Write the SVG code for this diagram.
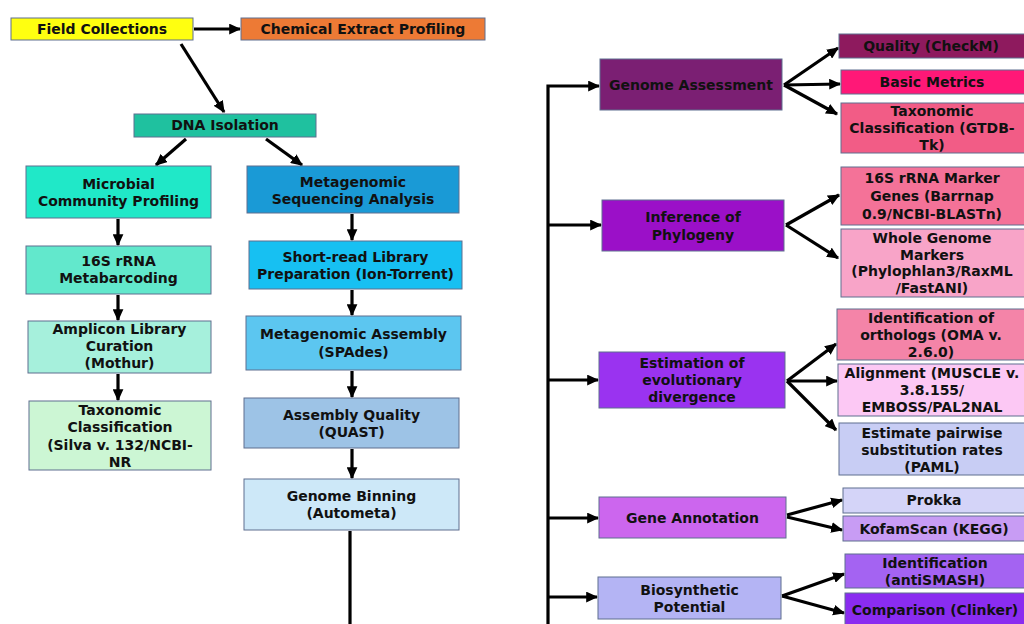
<svg xmlns="http://www.w3.org/2000/svg" width="1024" height="624" viewBox="0 0 1024 624">
<defs>
<marker id="ah" viewBox="0 0 10 9" refX="9" refY="4.5" markerWidth="12" markerHeight="11" markerUnits="userSpaceOnUse" orient="auto">
<path d="M0,0 L10,4.5 L0,9 z" fill="#000"/>
</marker>
<style>
.n rect{stroke:#5f6f8f;stroke-width:1}
.n text{font-family:"DejaVu Sans","Liberation Sans",sans-serif;font-weight:bold;font-size:14px;fill:#111;text-anchor:middle}
.c line,.c path{stroke:#000;stroke-width:3.2;fill:none}
.a{marker-end:url(#ah)}
</style>
</defs>
<rect width="1024" height="624" fill="#fff"/>
<g class="c">
<line class="a" x1="194" y1="29" x2="240" y2="29"/>
<line class="a" x1="181" y1="44" x2="224" y2="112"/>
<line class="a" x1="186" y1="139" x2="156" y2="165"/>
<line class="a" x1="266" y1="139" x2="302" y2="165"/>
<line class="a" x1="118" y1="219" x2="118" y2="245"/>
<line class="a" x1="118" y1="295" x2="118" y2="320"/>
<line class="a" x1="118" y1="374" x2="118" y2="400"/>
<line class="a" x1="352" y1="214" x2="352" y2="240"/>
<line class="a" x1="352" y1="290" x2="352" y2="315"/>
<line class="a" x1="352" y1="371" x2="352" y2="397"/>
<line class="a" x1="352" y1="449" x2="352" y2="478"/>
<line x1="350" y1="531" x2="350" y2="624"/>
<path class="a" d="M548,624 V86 H599"/>
<line class="a" x1="548" y1="225" x2="601" y2="225"/>
<line class="a" x1="548" y1="380" x2="598" y2="380"/>
<line class="a" x1="548" y1="518" x2="598" y2="518"/>
<line class="a" x1="548" y1="597" x2="597" y2="597"/>
<line class="a" x1="784" y1="85" x2="838" y2="48"/>
<line class="a" x1="784" y1="85" x2="840" y2="84"/>
<line class="a" x1="784" y1="85" x2="837" y2="114"/>
<line class="a" x1="786" y1="225" x2="839" y2="195"/>
<line class="a" x1="786" y1="225" x2="838" y2="258"/>
<line class="a" x1="787" y1="381" x2="836" y2="344"/>
<line class="a" x1="787" y1="381" x2="837" y2="381"/>
<line class="a" x1="787" y1="381" x2="836" y2="430"/>
<line class="a" x1="787" y1="515" x2="842" y2="500"/>
<line class="a" x1="787" y1="517" x2="842" y2="530"/>
<line class="a" x1="782" y1="596" x2="844" y2="574"/>
<line class="a" x1="782" y1="596" x2="844" y2="613"/>
</g>
<g id="field-collections" class="n"><rect x="11" y="18" width="182" height="22" fill="#ffff10"/><text x="102" y="34">Field Collections</text></g>
<g id="chemical-extract" class="n"><rect x="241" y="18" width="244" height="22" fill="#ed7a35"/><text x="363" y="34">Chemical Extract Profiling</text></g>
<g id="dna-isolation" class="n"><rect x="134" y="114" width="182" height="23" fill="#1fc19f"/><text x="225" y="130">DNA Isolation</text></g>
<g id="microbial" class="n"><rect x="26" y="166" width="185" height="52" fill="#20e8c8"/><text x="118.5" y="189">Microbial</text><text x="118.5" y="206">Community Profiling</text></g>
<g id="metabarcoding" class="n"><rect x="26" y="246" width="185" height="48" fill="#62e8cc"/><text x="118.5" y="266">16S rRNA</text><text x="118.5" y="283">Metabarcoding</text></g>
<g id="amplicon" class="n"><rect x="28" y="321" width="183" height="52" fill="#a6f0dc"/><text x="119.5" y="334">Amplicon Library</text><text x="119.5" y="351">Curation</text><text x="119.5" y="368">(Mothur)</text></g>
<g id="taxonomic-left" class="n"><rect x="29" y="401" width="182" height="69" fill="#ccf6d4"/><text x="120" y="415">Taxonomic</text><text x="120" y="432">Classification</text><text x="120" y="450">(Silva v. 132/NCBI-</text><text x="120" y="467">NR</text></g>
<g id="metagenomic-seq" class="n"><rect x="247" y="166" width="212" height="47" fill="#1a9ad6"/><text x="353" y="187">Metagenomic</text><text x="353" y="204">Sequencing Analysis</text></g>
<g id="short-read" class="n"><rect x="249" y="241" width="213" height="48" fill="#17c0f2"/><text x="355.5" y="262">Short-read Library</text><text x="355.5" y="279">Preparation (Ion-Torrent)</text></g>
<g id="assembly" class="n"><rect x="246" y="316" width="215" height="54" fill="#5cc6f0"/><text x="353.5" y="339">Metagenomic Assembly</text><text x="353.5" y="357">(SPAdes)</text></g>
<g id="assembly-quality" class="n"><rect x="244" y="398" width="215" height="50" fill="#9dc3e6"/><text x="351.5" y="420">Assembly Quality</text><text x="351.5" y="437">(QUAST)</text></g>
<g id="genome-binning" class="n"><rect x="244" y="479" width="215" height="51" fill="#cde8f8"/><text x="351.5" y="501">Genome Binning</text><text x="351.5" y="518">(Autometa)</text></g>
<g id="genome-assessment" class="n"><rect x="600" y="59" width="182" height="51" fill="#7b1f73"/><text x="691" y="90">Genome Assessment</text></g>
<g id="phylogeny" class="n"><rect x="602" y="200" width="182" height="51" fill="#9b10c8"/><text x="693" y="222">Inference of</text><text x="693" y="240">Phylogeny</text></g>
<g id="divergence" class="n"><rect x="599" y="352" width="186" height="56" fill="#9a33f0"/><text x="692" y="368">Estimation of</text><text x="692" y="385">evolutionary</text><text x="692" y="402">divergence</text></g>
<g id="gene-annotation" class="n"><rect x="599" y="497" width="187" height="41" fill="#cc66ee"/><text x="692.5" y="523">Gene Annotation</text></g>
<g id="biosynthetic" class="n"><rect x="598" y="577" width="183" height="42" fill="#b4b4f4"/><text x="689.5" y="595">Biosynthetic</text><text x="689.5" y="612">Potential</text></g>
<g id="checkm" class="n"><rect x="839" y="34" width="187" height="24" fill="#8e1a5e"/><text x="931" y="51">Quality (CheckM)</text></g>
<g id="basic-metrics" class="n"><rect x="841" y="70" width="185" height="24" fill="#ff1877"/><text x="932" y="87">Basic Metrics</text></g>
<g id="gtdb" class="n"><rect x="841" y="103" width="185" height="50" fill="#f25c86"/><text x="932" y="116">Taxonomic</text><text x="932" y="133">Classification (GTDB-</text><text x="932" y="150">Tk)</text></g>
<g id="marker-genes" class="n"><rect x="841" y="167" width="185" height="58" fill="#f47298"/><text x="932" y="183">16S rRNA Marker</text><text x="932" y="201">Genes (Barrnap</text><text x="932" y="219">0.9/NCBI-BLASTn)</text></g>
<g id="whole-genome" class="n"><rect x="841" y="229" width="185" height="68" fill="#f8a4c8"/><text x="932" y="243">Whole Genome</text><text x="932" y="260">Markers</text><text x="932" y="276">(Phylophlan3/RaxML</text><text x="932" y="293">/FastANI)</text></g>
<g id="orthologs" class="n"><rect x="837" y="309" width="189" height="51" fill="#f484a8"/><text x="931" y="323">Identification of</text><text x="931" y="340">orthologs (OMA v.</text><text x="931" y="357">2.6.0)</text></g>
<g id="alignment" class="n"><rect x="838" y="364" width="188" height="52" fill="#fcc8f4"/><text x="932" y="378">Alignment (MUSCLE v.</text><text x="932" y="395">3.8.155/</text><text x="932" y="412">EMBOSS/PAL2NAL</text></g>
<g id="paml" class="n"><rect x="839" y="423" width="187" height="52" fill="#c8cdf4"/><text x="932" y="438">Estimate pairwise</text><text x="932" y="455">substitution rates</text><text x="932" y="472">(PAML)</text></g>
<g id="prokka" class="n"><rect x="843" y="488" width="183" height="25" fill="#d4d4f8"/><text x="934" y="505">Prokka</text></g>
<g id="kofamscan" class="n"><rect x="843" y="516" width="183" height="25" fill="#c89cf4"/><text x="934" y="534">KofamScan (KEGG)</text></g>
<g id="antismash" class="n"><rect x="845" y="554" width="181" height="34" fill="#a463f2"/><text x="935" y="568">Identification</text><text x="935" y="585">(antiSMASH)</text></g>
<g id="clinker" class="n"><rect x="845" y="593" width="181" height="33" fill="#8a2cf0"/><text x="935" y="615">Comparison (Clinker)</text></g>
</svg>
